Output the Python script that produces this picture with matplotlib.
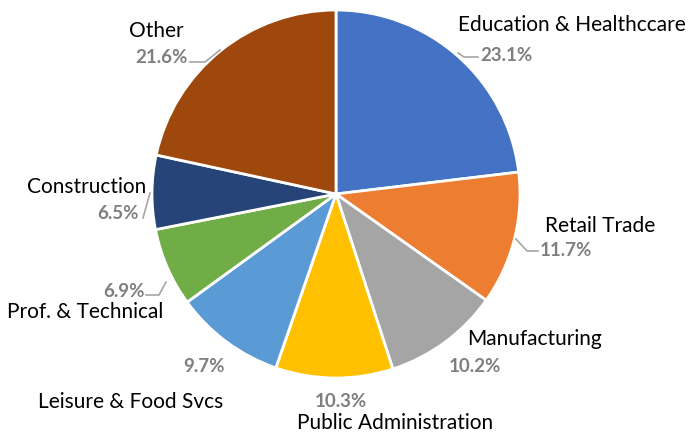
import matplotlib
matplotlib.use("Agg")
import matplotlib.pyplot as plt

categories = ["Education & Healthccare", "Retail Trade", "Manufacturing",
              "Public Administration", "Leisure & Food Svcs", "Prof. & Technical",
              "Construction", "Other"]
shares = [23.1, 11.7, 10.2, 10.3, 9.7, 6.9, 6.5, 21.6]
colors = ["#4472C4", "#ED7D31", "#A5A5A5", "#FFC000", "#5B9BD5", "#70AD47",
          "#264478", "#9E480E"]

W, H = 689, 433
# layout (pixel coords from top-left): name (left x, baseline y), pct (left x, baseline y)
name_pos = [(458, 31), (545, 232), (467, 345), (297, 429), (38, 408), (7, 318), (27, 193), (129, 37)]
pct_pos = [(480, 61), (540, 256), (449, 372), (315, 407), (183, 372), (103, 297), (97, 219), (135, 63)]
leaders = {
    0: [(458, 53), (464, 57), (478, 57)],
    1: [(516, 239), (527, 251), (538, 251)],
    5: [(166, 282), (159, 295), (146, 295)],
    6: [(150, 193), (143, 218)],
    7: [(220, 50), (205, 62), (190, 62)],
}

fig = plt.figure(figsize=(W / 100, H / 100), dpi=100)
ax = fig.add_axes([0, 0, 1, 1])
ax.pie(shares, colors=colors, startangle=90, counterclock=False,
       center=(336, H - 194), radius=184,
       wedgeprops=dict(edgecolor="white", linewidth=2))
ax.set_xlim(0, W)
ax.set_ylim(0, H)
ax.set_aspect("auto")
ax.axis("off")

for i, name in enumerate(categories):
    x, y = name_pos[i]
    ax.text(x, H - y, name, ha="left", va="baseline", fontsize=15,
            family=["Lato", "DejaVu Sans"], color="#000000")
    px, py = pct_pos[i]
    ax.text(px, H - py, f"{shares[i]:.1f}%", ha="left", va="baseline", fontsize=13.5,
            family=["Lato", "DejaVu Sans"], fontweight="bold", color="#7F7F7F")

for pts in leaders.values():
    xs = [p[0] for p in pts]
    ys = [H - p[1] for p in pts]
    ax.plot(xs, ys, color="#A6A6A6", linewidth=1.2)

fig.savefig("out.png", dpi=100)
